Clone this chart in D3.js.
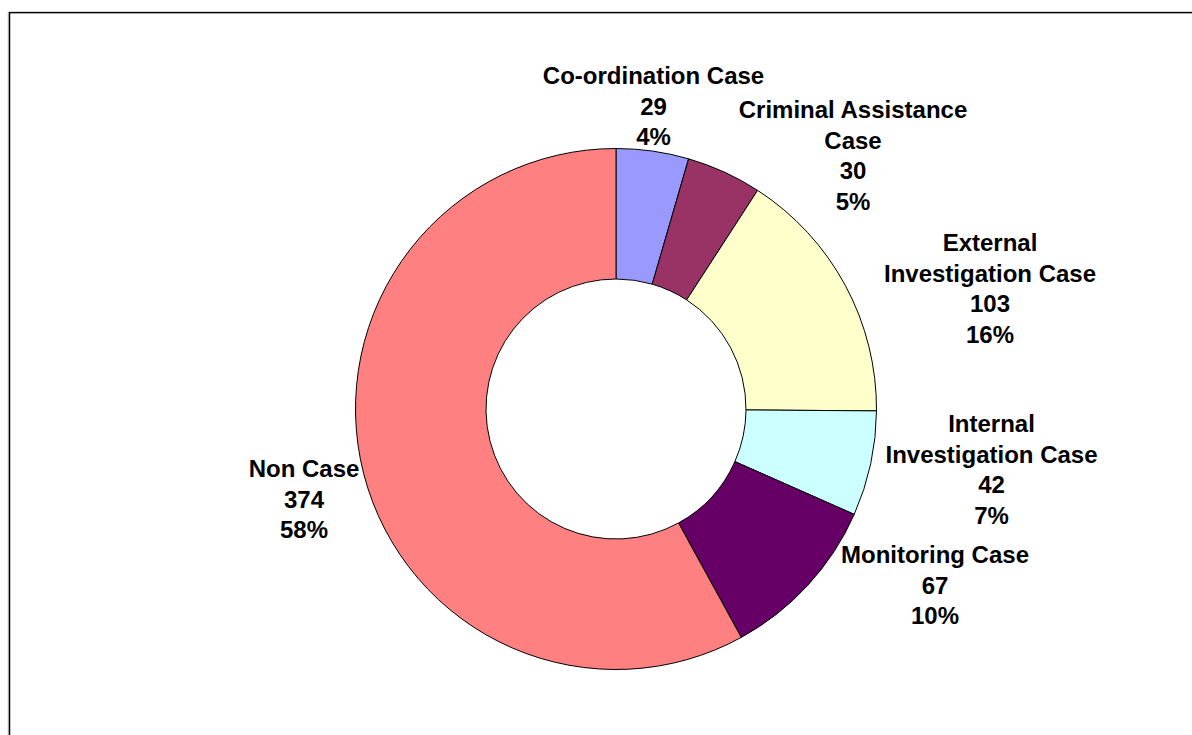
<!DOCTYPE html>
<html>
<head>
<meta charset="utf-8">
<script src="https://cdn.jsdelivr.net/npm/d3@7"></script>
<style>
  body { margin: 0; background: #fff; }
  svg { display: block; }
</style>
</head>
<body>
<div id="chart"></div>
<script>
// Case types, clockwise from 12 o'clock
const categories = ["Co-ordination Case", "Criminal Assistance Case", "External Investigation Case",
                    "Internal Investigation Case", "Monitoring Case", "Non Case"];
const counts = [29, 30, 103, 42, 67, 374];
// how each label is wrapped in the picture
const labelLines = [
    ["Co-ordination Case"],
    ["Criminal Assistance", "Case"],
    ["External", "Investigation Case"],
    ["Internal", "Investigation Case"],
    ["Monitoring Case"],
    ["Non Case"]
];
const colors = ["#9999ff", "#993366", "#ffffcc", "#ccffff", "#660066", "#ff8080"];

function renderGraph() {
    const width = 1192;
    const height = 735;
    const cx = 616, cy = 409;
    const outerR = 260.5;
    const innerR = 130;
    const lineH = 30.7;

    // label anchor (center x, first baseline) relative to pie center
    const labelOffsets = [[37.5, -325], [237, -291], [374, -158], [375.5, 23], [319, 154], [-312, 68]];

    const svg = d3.select('#chart')
        .append('svg')
        .attr('width', width)
        .attr('height', height);

    // frame
    svg.append('line')
        .attr('x1', 8.2).attr('x2', 8.2).attr('y1', 12).attr('y2', height)
        .attr('stroke', '#c8c8c8').attr('stroke-width', 1);
    svg.append('rect')
        .attr('x', 9.5).attr('y', 12.6)
        .attr('width', 1300).attr('height', 900)
        .attr('fill', 'none')
        .attr('stroke', '#000')
        .attr('stroke-width', 1.5);

    const total = d3.sum(counts);
    const data = categories.map((c, i) => ({ name: c, count: counts[i], lines: labelLines[i], color: colors[i] }));

    const pie = d3.pie().value(d => d.count).sort(null);
    const arc = d3.arc().innerRadius(innerR).outerRadius(outerR);

    const container = svg.append('g')
        .attr('transform', `translate(${cx}, ${cy})`);

    container.selectAll('path')
        .data(pie(data))
        .enter()
        .append('path')
        .attr('d', arc)
        .attr('fill', d => d.data.color)
        .attr('stroke', 'black')
        .attr('stroke-width', 1);

    // labels: name lines, count, percentage
    const labels = container.selectAll('text.lbl')
        .data(data)
        .enter()
        .append('text')
        .attr('class', 'lbl')
        .attr('text-anchor', 'middle')
        .attr('font-family', '"Liberation Sans", Arial, Helvetica, sans-serif')
        .attr('font-weight', 'bold')
        .attr('font-size', 24)
        .attr('fill', '#000');

    labels.each(function (d, i) {
        const [dx, dy] = labelOffsets[i];
        const rows = d.lines.concat([String(d.count), Math.round(d.count / total * 100) + '%']);
        d3.select(this).selectAll('tspan')
            .data(rows)
            .enter()
            .append('tspan')
            .attr('x', dx)
            .attr('y', (r, j) => dy + j * lineH)
            .text(r => r);
    });
}

renderGraph();
</script>
</body>
</html>
